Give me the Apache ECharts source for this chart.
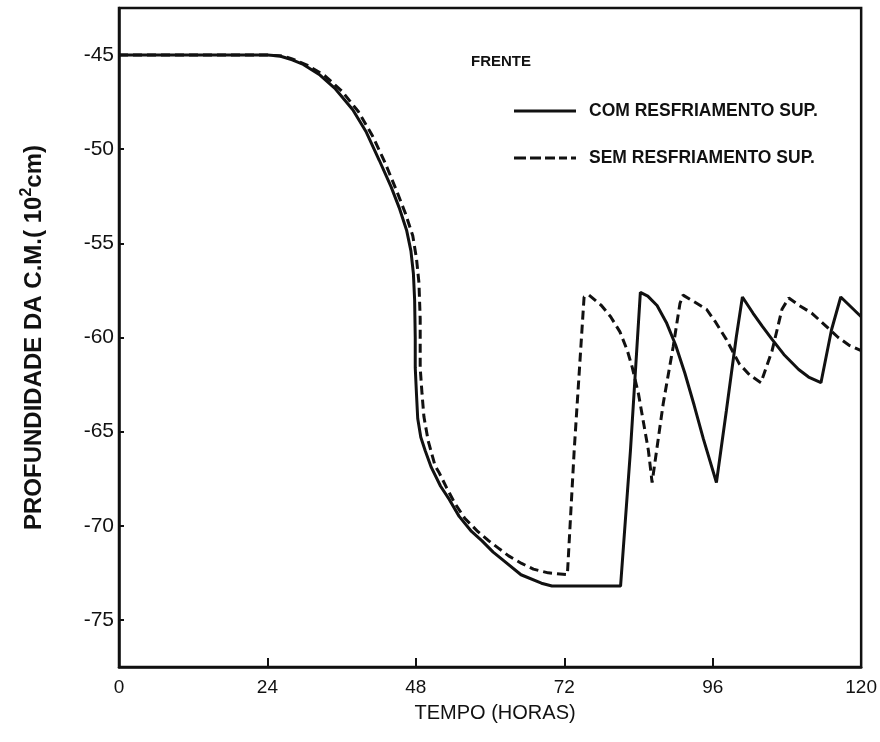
<!DOCTYPE html>
<html>
<head>
<meta charset="utf-8">
<script src="https://cdn.jsdelivr.net/npm/echarts@6/dist/echarts.min.js"></script>
<style>html,body{margin:0;padding:0;background:#fff}#c{width:880px;height:742px}</style>
</head>
<body>
<div id="c"></div>
<script>
// ---- data ----
const xTicks = [0, 24, 48, 72, 96, 120];
const yTicks = [-75, -70, -65, -60, -55, -50, -45];

const comHours = [0, 24, 26, 28, 29.8, 32.5, 35, 37.8, 40, 42.1, 44, 45.3, 46.5, 47.2, 47.6, 47.8, 47.9, 47.9, 48.1, 48.3, 48.8, 49.5, 50.5, 52, 53.4, 55, 57, 58.7, 60.5, 62, 65, 68.3, 70, 81.1, 82.7, 84.3, 85.5, 87, 88.5, 90, 91.5, 93, 94.5, 96.6, 98.2, 99.8, 100.8, 102.5, 104, 105.6, 107.5, 109.9, 111.5, 113.5, 115.2, 116.7, 120];
const comDepth = [-45, -45, -45.05, -45.25, -45.5, -46.06, -46.8, -47.9, -49.1, -50.6, -52, -53.1, -54.3, -55.4, -56.6, -58, -60, -61.6, -63, -64.3, -65.3, -66, -66.9, -67.9, -68.6, -69.5, -70.3, -70.8, -71.4, -71.8, -72.6, -73.05, -73.2, -73.2, -66, -57.6, -57.8, -58.3, -59.2, -60.4, -61.9, -63.6, -65.4, -67.7, -63.9, -60, -57.85, -58.7, -59.4, -60.1, -60.9, -61.7, -62.1, -62.4, -59.6, -57.85, -58.9];

const semHours = [0, 24, 26.5, 28, 30.5, 33.3, 36, 38.7, 41, 43, 45, 46.3, 47.5, 48.1, 48.5, 48.7, 48.7, 49, 49.3, 50, 51.1, 51.8, 53, 54.3, 55.9, 58, 59.8, 61.4, 63, 65.1, 67, 69.4, 72.5, 73.6, 75.2, 76, 78, 79.5, 81, 82.2, 83, 84, 84.8, 85.6, 86.2, 88, 89.6, 90.7, 91.2, 93, 95, 96.5, 98.2, 100.3, 102, 103.8, 105.6, 107.2, 108.3, 110, 112, 114, 116.3, 118, 120];
const semDepth = [-45, -45, -45.05, -45.2, -45.55, -46.1, -46.9, -48, -49.3, -50.7, -52.3, -53.4, -54.6, -55.8, -57.1, -59, -61.6, -63, -64.2, -65.5, -66.8, -67.2, -68, -68.8, -69.6, -70.3, -70.8, -71.2, -71.6, -72, -72.3, -72.5, -72.6, -66, -57.85, -57.75, -58.3, -58.9, -59.7, -60.7, -61.6, -63, -64.5, -66, -67.7, -63.5, -60.5, -58.2, -57.75, -58.1, -58.5, -59.2, -60.1, -61.4, -62, -62.4, -60.7, -58.5, -57.9, -58.3, -58.7, -59.3, -60, -60.4, -60.7];

const seriesNames = ['COM RESFRIAMENTO SUP.', 'SEM RESFRIAMENTO SUP.'];
const panelTitle = 'FRENTE';
const xName = 'TEMPO (HORAS)';

const zip = (a, b) => a.map((v, i) => [v, b[i]]);
const ink = '#111';
const font = '"Liberation Sans", Arial, sans-serif';

const solidIcon = 'path://M0,0h62v3H0z';
const dashIcon = 'path://M0,0h12v3H0z M16,0h11v3h-11z M31,0h10v3h-10z M45,0h8v3h-8z M57,0h5v3h-5z';

const chart = echarts.init(document.getElementById('c'), null, {renderer: 'canvas'});
chart.setOption({
  animation: false,
  backgroundColor: '#fff',
  title: {
    text: panelTitle, left: 466, top: 49,
    textStyle: {fontFamily: font, fontSize: 15, fontWeight: 'bold', color: ink}
  },
  legend: {
    data: [{name: seriesNames[0], icon: solidIcon}, {name: seriesNames[1], icon: dashIcon}],
    orient: 'vertical', left: 509, top: 97,
    itemWidth: 62, itemHeight: 3, itemGap: 29,
    itemStyle: {color: ink, borderWidth: 0},
    textStyle: {fontFamily: font, fontSize: 17.5, fontWeight: 'bold', color: ink, padding: [0, 0, 0, 8]}
  },
  grid: {left: 119, right: 16, top: 8, bottom: 75, show: true, borderColor: ink, borderWidth: 2.5, containLabel: false},
  xAxis: {
    type: 'value', min: 0, max: 120, interval: 24,
    name: xName, nameLocation: 'middle', nameGap: 36,
    nameTextStyle: {fontFamily: font, fontSize: 20, color: ink, padding: [0, 0, 0, 10]},
    axisLine: {onZero: false, lineStyle: {color: ink, width: 2.5}},
    axisTick: {inside: true, length: 9, lineStyle: {color: ink, width: 2}},
    axisLabel: {fontFamily: font, fontSize: 19, color: ink, margin: 11},
    splitLine: {show: false}
  },
  yAxis: {
    type: 'value', min: -77.5, max: -42.5,
    name: 'PROFUNDIDADE DA C.M.( 10{sup|2}cm)', nameLocation: 'middle', nameGap: 70, nameRotate: 90,
    nameTextStyle: {fontFamily: font, fontSize: 24, fontWeight: 'bold', color: ink,
      rich: {sup: {fontFamily: font, fontSize: 16, fontWeight: 'bold', color: ink, padding: [0, 0, 14, 0]}}},
    axisLine: {lineStyle: {color: ink, width: 2.5}},
    axisTick: {inside: true, length: 5, customValues: yTicks, lineStyle: {color: ink, width: 2}},
    axisLabel: {fontFamily: font, fontSize: 21, color: ink, margin: 5, customValues: yTicks},
    splitLine: {show: false}
  },
  series: [
    {name: seriesNames[0], type: 'line', data: zip(comHours, comDepth), symbol: 'none',
     lineStyle: {color: ink, width: 3, type: 'solid'}, itemStyle: {color: ink}},
    {name: seriesNames[1], type: 'line', data: zip(semHours, semDepth), symbol: 'none',
     lineStyle: {color: ink, width: 3, type: [9, 5]}, itemStyle: {color: ink}}
  ]
});
</script>
</body>
</html>
